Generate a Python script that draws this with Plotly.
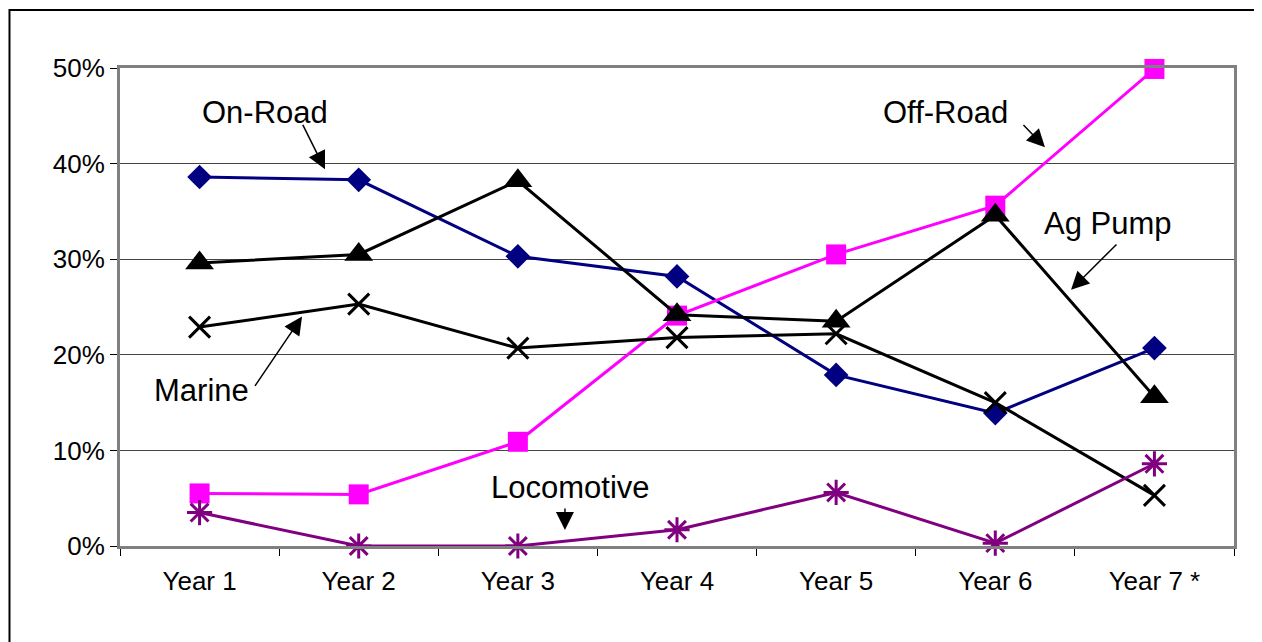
import plotly.graph_objects as go

years = ["Year 1", "Year 2", "Year 3", "Year 4", "Year 5", "Year 6", "Year 7 *"]
on_road = [38.6, 38.3, 30.3, 28.2, 17.9, 13.9, 20.7]
off_road = [5.5, 5.4, 10.9, 24.1, 30.5, 35.6, 49.9]
ag_pump = [29.6, 30.5, 38.2, 24.2, 23.5, 34.6, 15.6]
marine = [22.9, 25.3, 20.7, 21.8, 22.2, 15.0, 5.3]
locomotive = [3.5, 0.0, 0.0, 1.7, 5.6, 0.3, 8.6]

FONT = "Liberation Sans, Arial, sans-serif"

fig = go.Figure()

series = [
    ("On-Road", on_road, "#000080", dict(symbol="diamond", size=19, color="#000080")),
    ("Off-Road", off_road, "#FF00FF", dict(symbol="square", size=20, color="#FF00FF")),
    ("Marine", marine, "#000000", dict(symbol="x-thin", size=21, color="#000000",
                                        line=dict(width=3, color="#000000"))),
    ("Ag Pump", ag_pump, "#000000", dict(symbol="triangle-up", size=25, color="#000000")),
    ("Locomotive", locomotive, "#800080", dict(symbol="asterisk-open", size=21, color="#800080",
                                              line=dict(width=3, color="#800080"))),
]
for name, vals, col, mk in series:
    fig.add_trace(go.Scatter(x=years, y=vals, mode="lines+markers", name=name,
                             line=dict(color=col, width=3), marker=mk, cliponaxis=False))

# labels
labels = [
    ("On-Road", 0.411, 45.3),
    ("Off-Road", 4.690, 45.3),
    ("Ag Pump", 5.708, 33.7),
    ("Marine", 0.009, 16.3),
    ("Locomotive", 2.328, 6.07),
]
for t, x, y in labels:
    fig.add_annotation(x=x, y=y, xref="x", yref="y", text=t, showarrow=False,
                       font=dict(family=FONT, size=31, color="black"))

arrows = [
    (0.644, 44.2, 0.788, 39.4),
    (5.168, 44.2, 5.312, 41.7),
    (5.771, 31.7, 5.476, 26.8),
    (0.342, 16.6, 0.644, 24.0),
    (2.296, 4.08, 2.296, 1.67),
]
for ax_, ay_, x, y in arrows:
    fig.add_annotation(x=x, y=y, ax=ax_, ay=ay_, xref="x", yref="y", axref="x", ayref="y",
                       text="", showarrow=True, arrowhead=2, arrowsize=2.4, arrowwidth=1.5,
                       arrowcolor="black", standoff=0, startstandoff=0)

# outer frame (only left and top visible in the reference)
fig.add_shape(type="rect", xref="paper", yref="paper", x0=-0.0992, x1=1.2, y0=-0.4, y1=1.1213,
              line=dict(color="black", width=2), layer="below")

fig.update_layout(
    width=1254, height=634,
    margin=dict(l=112, r=28, t=60, b=96),
    paper_bgcolor="white", plot_bgcolor="white",
    showlegend=False,
    font=dict(family=FONT, size=26, color="black"),
    xaxis=dict(type="category", range=[-0.5, 6.5], showgrid=False,
               showline=True, linecolor="#808080", linewidth=3, mirror=True,
               ticks="outside", tickson="boundaries", ticklen=7, tickcolor="#000000", tickwidth=1,
               ticklabelstandoff=10,
               tickfont=dict(family=FONT, size=26, color="black"), zeroline=False),
    yaxis=dict(range=[0, 50], dtick=10, ticksuffix="%", showgrid=True, gridcolor="#444444",
               gridwidth=1, showline=True, linecolor="#808080", linewidth=3, mirror=True,
               ticks="outside", ticklen=7, tickcolor="#000000", tickwidth=1,
               tickfont=dict(family=FONT, size=26, color="black"), zeroline=False),
)

fig.write_html("out.html")
